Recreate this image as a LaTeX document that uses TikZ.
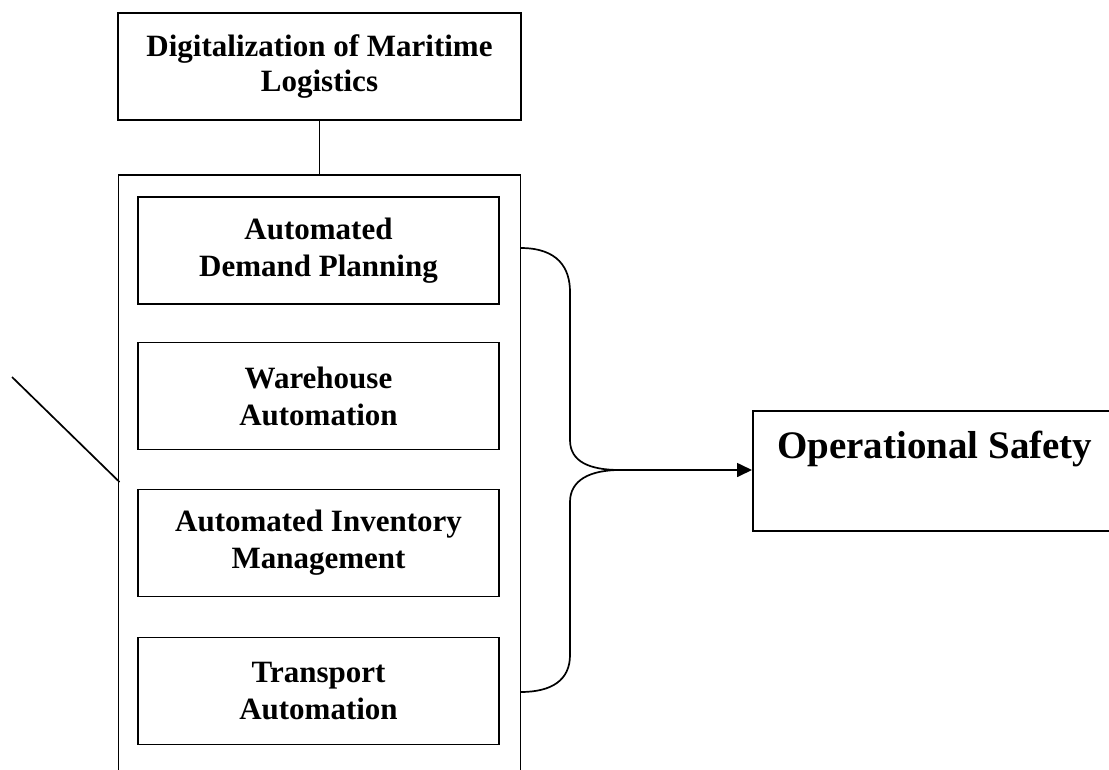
\documentclass[tikz,border=0pt]{standalone}
\usepackage{fontspec}
\setmainfont{Liberation Serif}
\usetikzlibrary{arrows.meta}
\begin{document}
\begin{tikzpicture}[x=1pt,y=-1pt,line width=1.7pt,
  box/.style={draw,line width=1.7pt,inner sep=0pt,align=center,font=\bfseries\fontsize{31}{35}\selectfont},
  inbox/.style={box,minimum width=361pt,minimum height=107pt,font=\bfseries\fontsize{31}{37}\selectfont},
  conn/.style={line width=1.7pt}]
\useasboundingbox (0,0) rectangle (1109,769);
\clip (0,0) rectangle (1109,769);
\node[box,minimum width=403pt,minimum height=107pt] (top) at (319.5,66.5) {Digitalization of Maritime\\Logistics};
\node[draw,line width=1.7pt,minimum width=402pt,minimum height=625pt,inner sep=0pt] (outer) at (319.5,487.5) {};
\node[inbox] (b1) at (318.5,250.5) {Automated\\Demand Planning};
\node[inbox] (b2) at (318.5,396) {Warehouse\\Automation};
\node[inbox] (b3) at (318.5,543) {Automated Inventory\\Management};
\node[inbox] (b4) at (318.5,691) {Transport\\Automation};
\node[draw,line width=1.7pt,anchor=north west,minimum width=364pt,inner sep=0pt,text height=48pt,text depth=72pt,font=\bfseries\fontsize{39}{44}\selectfont] (safety) at (752,410) {Operational Safety};
\draw[conn] (top.south) -- (top.south |- outer.north);
\coordinate (d0) at (12,377);
\coordinate (d1) at (119.5,482);
\draw[conn] (d0) -- (d1);
\coordinate (bs) at (520.5,248);
\coordinate (be) at (520.5,692);
\coordinate (mid) at (620,470);
\draw[conn] (bs) .. controls (558,248) and (570,268) .. (570,292) -- (570,440)
  .. controls (570,462) and (590,470) .. (mid);
\draw[conn] (mid) .. controls (590,470) and (570,480) .. (570,502) -- (570,655)
  .. controls (570,680) and (552,692) .. (be);
\draw[conn,-{Triangle[length=15pt,width=14pt]}] (mid) -- (safety.west |- mid);
\end{tikzpicture}
\end{document}
